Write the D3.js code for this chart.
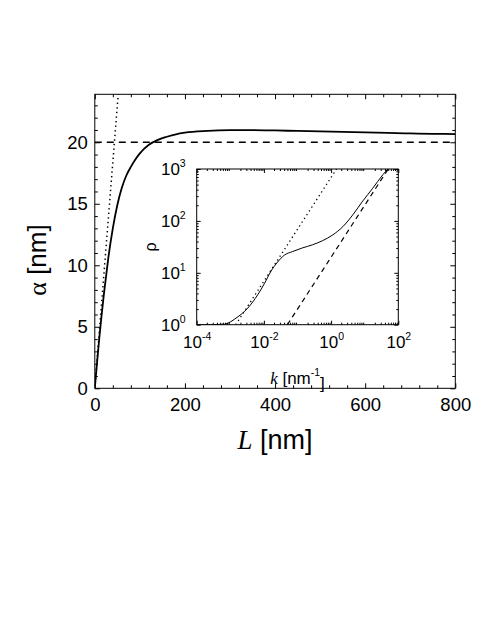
<!DOCTYPE html>
<html><head><meta charset="utf-8">
<script src="https://cdn.jsdelivr.net/npm/d3@7"></script>
<style>
body{margin:0;background:#fff}
svg{display:block}
text{font-family:"Liberation Sans",Arial,sans-serif;fill:#000}
</style>
</head><body>
<svg id="c" width="491" height="635"></svg>
<script>
// ---------- data ----------
const mainL     = [0, 5, 10, 15, 20, 25, 30, 40, 50, 60, 70, 80, 90, 100, 120, 140, 160, 180, 200, 250, 300, 350, 400, 450, 500, 550, 600, 650, 700, 750, 800];
const mainAlpha = [0, 2.1, 4.1, 5.9, 7.6, 9.1, 10.6, 13.0, 14.9, 16.3, 17.3, 18.0, 18.6, 19.1, 19.8, 20.2, 20.45, 20.65, 20.78, 20.92, 20.98, 20.99, 20.96, 20.92, 20.88, 20.84, 20.8, 20.76, 20.72, 20.69, 20.66];
const dotL      = [0, 52];
const dotAlpha  = [0, 23.9];
const limitAlpha = 20;
const mainXTicks = [0, 200, 400, 600, 800];
const mainYTicks = [0, 5, 10, 15, 20];

const insetK   = [1e-4, 3.16e-4, 6.6e-4, 1.48e-3, 3.31e-3, 6.6e-3, 1.05e-2, 1.62e-2, 2.57e-2, 4.07e-2, 7.2e-2, 0.141, 0.282, 0.562, 1.12, 2.24, 4.47, 8.7, 17.4, 34.7, 49];
const insetRho = [1.0, 1.005, 1.02, 1.34, 2.09, 3.8, 6.3, 10.7, 16.2, 21.9, 25.7, 30.2, 34.7, 41.7, 53.7, 77.6, 132, 240, 427, 776, 1000];
const insetDotK    = [1.45e-3, 1.45];
const insetDotRho  = [1, 1000];
const insetDashK   = [0.05, 50];
const insetDashRho = [1, 1000];
const insetXTicks = [1e-4, 1e-2, 1e0, 1e2];
const insetXExp   = ["-4", "-2", "0", "2"];
const insetYTicks = [1, 10, 100, 1000];
const insetYExp   = ["0", "1", "2", "3"];

// ---------- layout ----------
const svg = d3.select("#c");
svg.append("rect").attr("width", 491).attr("height", 635).attr("fill", "#fff");

const x = d3.scaleLinear().domain([0, 800]).range([94.8, 455.3]);
const y = d3.scaleLinear().domain([0, 23.9]).range([388.3, 94.3]);
const X0 = x.range()[0], X1 = x.range()[1], Y0 = y.range()[0], Y1 = y.range()[1];

const defs = svg.append("defs");
defs.append("clipPath").attr("id", "clipMain").append("rect")
  .attr("x", X0).attr("y", Y1).attr("width", X1 - X0).attr("height", Y0 - Y1);

const minorX = d3.range(0, 801, 40).filter(v => v % 200 !== 0);
const minorY = d3.range(0, 24, 1).filter(v => v % 5 !== 0);

function styleAxis(g) {
  g.select(".domain").remove();
  g.selectAll(".tick line").attr("stroke", "#000").attr("stroke-width", 1);
}

// main ticks (inward) on all four sides
const gMain = svg.append("g");
gMain.append("g").attr("transform", `translate(0,${Y0})`)
  .call(d3.axisBottom(x).tickValues(mainXTicks).tickSize(-5).tickPadding(10).tickFormat(d3.format("d")))
  .call(styleAxis)
  .call(g => g.selectAll("text").attr("font-size", 18.5).attr("font-family", "Liberation Sans, Arial, sans-serif"));
gMain.append("g").attr("transform", `translate(0,${Y0})`)
  .call(d3.axisBottom(x).tickValues(minorX).tickSize(-3).tickFormat(""))
  .call(styleAxis);
gMain.append("g").attr("transform", `translate(0,${Y1})`)
  .call(d3.axisTop(x).tickValues(mainXTicks).tickSize(-5).tickFormat(""))
  .call(styleAxis);
gMain.append("g").attr("transform", `translate(0,${Y1})`)
  .call(d3.axisTop(x).tickValues(minorX).tickSize(-3).tickFormat(""))
  .call(styleAxis);
gMain.append("g").attr("transform", `translate(${X0},0)`)
  .call(d3.axisLeft(y).tickValues(mainYTicks).tickSize(-5).tickPadding(7).tickFormat(d3.format("d")))
  .call(styleAxis)
  .call(g => g.selectAll("text").attr("font-size", 18.5).attr("font-family", "Liberation Sans, Arial, sans-serif"));
gMain.append("g").attr("transform", `translate(${X0},0)`)
  .call(d3.axisLeft(y).tickValues(minorY).tickSize(-3).tickFormat(""))
  .call(styleAxis);
gMain.append("g").attr("transform", `translate(${X1},0)`)
  .call(d3.axisRight(y).tickValues(mainYTicks).tickSize(-5).tickFormat(""))
  .call(styleAxis);
gMain.append("g").attr("transform", `translate(${X1},0)`)
  .call(d3.axisRight(y).tickValues(minorY).tickSize(-3).tickFormat(""))
  .call(styleAxis);

// main curves
const plot = svg.append("g").attr("clip-path", "url(#clipMain)");
plot.append("line")
  .attr("x1", x(0)).attr("x2", x(800)).attr("y1", y(limitAlpha)).attr("y2", y(limitAlpha))
  .attr("stroke", "#000").attr("stroke-width", 1.4).attr("stroke-dasharray", "7,5");
plot.append("path")
  .datum(dotL.map((d, i) => [d, dotAlpha[i]]))
  .attr("d", d3.line().x(d => x(d[0])).y(d => y(d[1])))
  .attr("fill", "none").attr("stroke", "#000").attr("stroke-width", 1.5).attr("stroke-dasharray", "1.4,3.2");
plot.append("path")
  .datum(mainL.map((d, i) => [d, mainAlpha[i]]))
  .attr("d", d3.line().x(d => x(d[0])).y(d => y(d[1])).curve(d3.curveMonotoneX))
  .attr("fill", "none").attr("stroke", "#000").attr("stroke-width", 1.8);

svg.append("rect").attr("x", X0).attr("y", Y1).attr("width", X1 - X0).attr("height", Y0 - Y1)
  .attr("fill", "none").attr("stroke", "#000").attr("stroke-width", 1);

// main axis titles
svg.append("text").attr("transform", `translate(46,260) rotate(-90)`).attr("text-anchor", "middle")
  .attr("font-size", 26)
  .call(t => {
    t.append("tspan").attr("font-family", "Liberation Serif, serif").text("α");
    t.append("tspan").text(" [nm]");
  });
svg.append("text").attr("x", 275).attr("y", 449).attr("text-anchor", "middle").attr("font-size", 27)
  .call(t => {
    t.append("tspan").attr("font-family", "Liberation Serif, serif").attr("font-style", "italic").text("L");
    t.append("tspan").text(" [nm]");
  });

// ---------- inset ----------
const xi = d3.scaleLog().domain([1e-4, 1e2]).range([196.7, 398.3]);
const yi = d3.scaleLog().domain([1, 1e3]).range([324.7, 169]);
const I0 = xi.range()[0], I1 = xi.range()[1], J0 = yi.range()[0], J1 = yi.range()[1];

defs.append("clipPath").attr("id", "clipInset").append("rect")
  .attr("x", I0).attr("y", J1).attr("width", I1 - I0).attr("height", J0 - J1);

svg.append("rect").attr("x", I0).attr("y", J1).attr("width", I1 - I0).attr("height", J0 - J1).attr("fill", "#fff");

const minorKi = [];
for (let e = -4; e < 2; e++) for (let m = 2; m <= 9; m++) minorKi.push(m * Math.pow(10, e));
const minorRi = [];
for (let e = 0; e < 3; e++) for (let m = 2; m <= 9; m++) minorRi.push(m * Math.pow(10, e));

function supLabels(g, exps, anchor) {
  g.selectAll(".tick text").each(function (d, i) {
    const t = d3.select(this);
    t.text("").attr("font-size", 17).attr("font-family", "Liberation Sans, Arial, sans-serif").attr("text-anchor", anchor);
    t.append("tspan").text("10");
    t.append("tspan").attr("font-size", 10.5).attr("dy", "-0.75em").text(exps[i]);
  });
}

const gIn = svg.append("g");
gIn.append("g").attr("transform", `translate(0,${J0})`)
  .call(d3.axisBottom(xi).tickValues(insetXTicks).tickSize(-4).tickPadding(11).tickFormat(() => ""))
  .call(styleAxis)
  .call(g => supLabels(g, insetXExp, "middle"));
gIn.append("g").attr("transform", `translate(0,${J0})`)
  .call(d3.axisBottom(xi).tickValues(minorKi).tickSize(-2).tickFormat(""))
  .call(styleAxis);
gIn.append("g").attr("transform", `translate(0,${J1})`)
  .call(d3.axisTop(xi).tickValues(insetXTicks).tickSize(-4).tickFormat(""))
  .call(styleAxis);
gIn.append("g").attr("transform", `translate(0,${J1})`)
  .call(d3.axisTop(xi).tickValues(minorKi).tickSize(-2).tickFormat(""))
  .call(styleAxis);
gIn.append("g").attr("transform", `translate(${I0},0)`)
  .call(d3.axisLeft(yi).tickValues(insetYTicks).tickSize(-4).tickPadding(11).tickFormat(() => ""))
  .call(styleAxis)
  .call(g => supLabels(g, insetYExp, "end"));
gIn.append("g").attr("transform", `translate(${I0},0)`)
  .call(d3.axisLeft(yi).tickValues(minorRi).tickSize(-2).tickFormat(""))
  .call(styleAxis);
gIn.append("g").attr("transform", `translate(${I1},0)`)
  .call(d3.axisRight(yi).tickValues(insetYTicks).tickSize(-4).tickFormat(""))
  .call(styleAxis);
gIn.append("g").attr("transform", `translate(${I1},0)`)
  .call(d3.axisRight(yi).tickValues(minorRi).tickSize(-2).tickFormat(""))
  .call(styleAxis);

const inPlot = svg.append("g").attr("clip-path", "url(#clipInset)");
inPlot.append("path")
  .datum(insetDotK.map((d, i) => [d, insetDotRho[i]]))
  .attr("d", d3.line().x(d => xi(d[0])).y(d => yi(d[1])))
  .attr("fill", "none").attr("stroke", "#000").attr("stroke-width", 1.3).attr("stroke-dasharray", "1.3,3.2");
inPlot.append("path")
  .datum(insetDashK.map((d, i) => [d, insetDashRho[i]]))
  .attr("d", d3.line().x(d => xi(d[0])).y(d => yi(d[1])))
  .attr("fill", "none").attr("stroke", "#000").attr("stroke-width", 1.2).attr("stroke-dasharray", "5,4");
inPlot.append("path")
  .datum(insetK.map((d, i) => [d, insetRho[i]]))
  .attr("d", d3.line().x(d => xi(d[0])).y(d => yi(d[1])).curve(d3.curveMonotoneX))
  .attr("fill", "none").attr("stroke", "#000").attr("stroke-width", 1);

svg.append("rect").attr("x", I0).attr("y", J1).attr("width", I1 - I0).attr("height", J0 - J1)
  .attr("fill", "none").attr("stroke", "#000").attr("stroke-width", 1);

// inset titles
svg.append("text").attr("x", 297.5).attr("y", 384).attr("text-anchor", "middle").attr("font-size", 17)
  .call(t => {
    t.append("tspan").attr("font-family", "Liberation Serif, serif").attr("font-style", "italic").text("k");
    t.append("tspan").text(" [nm");
    t.append("tspan").attr("font-size", 10.5).attr("dy", "-0.75em").text("-1");
    t.append("tspan").attr("dy", "0.75em").text("]");
  });
svg.append("text").attr("transform", `translate(156,247) rotate(-90)`).attr("text-anchor", "middle")
  .attr("font-size", 16).attr("font-family", "Liberation Serif, serif").text("ρ");
</script>
</body></html>
